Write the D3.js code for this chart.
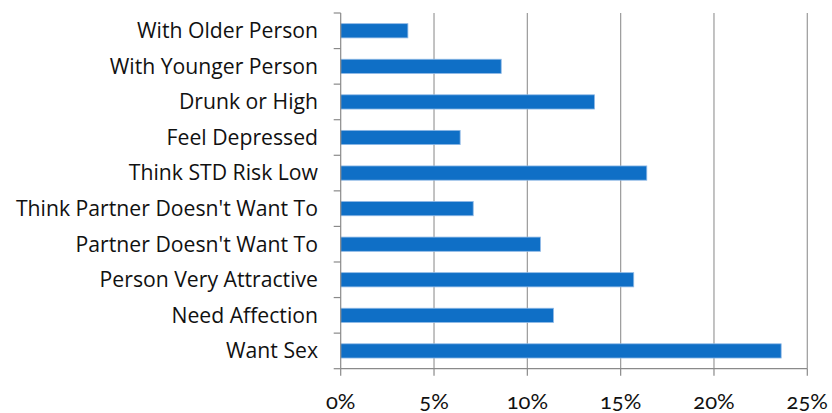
<!DOCTYPE html>
<html>
<head>
<meta charset="utf-8">
<script src="https://cdn.jsdelivr.net/npm/d3@7/dist/d3.min.js"></script>
<style>
  html, body { margin: 0; padding: 0; background: #fff; }
  svg { display: block; }
  .lbl { font-family: "Open Sans", Lato, sans-serif; fill: #111; }
  .num { font-family: Lato, "Open Sans", sans-serif; font-variant-numeric: oldstyle-nums; font-feature-settings: "onum" 1; }
</style>
</head>
<body>
<svg id="chart" width="832" height="413"></svg>
<script>
// Reasons given, top to bottom
const categories = [
  "With Older Person",
  "With Younger Person",
  "Drunk or High",
  "Feel Depressed",
  "Think STD Risk Low",
  "Think Partner Doesn't Want To",
  "Partner Doesn't Want To",
  "Person Very Attractive",
  "Need Affection",
  "Want Sex"
];
// Share of respondents (%)
const values = [3.6, 8.6, 13.6, 6.4, 16.4, 7.1, 10.7, 15.7, 11.4, 23.6];
const xTicks = [0, 5, 10, 15, 20, 25];

const svg = d3.select("#chart");
const plotLeft = 340.7, plotRight = 807.3, plotTop = 13, plotBottom = 368.7;

const x = d3.scaleLinear().domain([0, 25]).range([plotLeft, plotRight]);
const y = d3.scaleBand().domain(categories).range([plotTop, plotBottom]).paddingInner(0.6).paddingOuter(0.3);
const band = d3.scaleBand().domain(categories).range([plotTop, plotBottom]);

// vertical gridlines
svg.append("g").selectAll("line").data(xTicks.slice(1)).join("line")
  .attr("x1", d => x(d)).attr("x2", d => x(d))
  .attr("y1", plotTop).attr("y2", plotBottom)
  .attr("stroke", "#9a9a9a").attr("stroke-width", 1.2);

// bars
svg.append("g").selectAll("rect").data(values).join("rect")
  .attr("x", x(0))
  .attr("y", (d, i) => y(categories[i]))
  .attr("width", d => x(d) - x(0))
  .attr("height", y.bandwidth())
  .attr("fill", "#0F6FC6")
  .attr("stroke", "#8fb9e6").attr("stroke-width", 0.8);

// y axis line and ticks at category boundaries
const yAxis = svg.append("g").attr("stroke", "#8a8a8a").attr("stroke-width", 1.2);
yAxis.append("line").attr("x1", plotLeft).attr("x2", plotLeft).attr("y1", plotTop).attr("y2", plotBottom);
const bounds = categories.map(c => band(c)).concat([plotBottom]);
yAxis.selectAll("line.tk").data(bounds).join("line").attr("class", "tk")
  .attr("x1", plotLeft - 7).attr("x2", plotLeft).attr("y1", d => d).attr("y2", d => d);

// x axis line and ticks
const xAxis = svg.append("g").attr("stroke", "#8a8a8a").attr("stroke-width", 1.2);
xAxis.append("line").attr("x1", plotLeft).attr("x2", plotRight).attr("y1", plotBottom).attr("y2", plotBottom);
xAxis.selectAll("line.tk").data(xTicks).join("line").attr("class", "tk")
  .attr("x1", d => x(d)).attr("x2", d => x(d)).attr("y1", plotBottom).attr("y2", plotBottom + 7);

// category labels
svg.append("g").selectAll("text").data(categories).join("text")
  .attr("class", "lbl")
  .attr("x", 318)
  .attr("y", d => band(d) + band.bandwidth() / 2)
  .attr("dy", "0.35em")
  .attr("text-anchor", "end")
  .attr("font-size", 21.2)
  .text(d => d);

// percent labels
svg.append("g").selectAll("text").data(xTicks).join("text")
  .attr("class", "lbl num")
  .attr("x", d => x(d))
  .attr("y", 401)
  .attr("dy", "0.35em")
  .attr("text-anchor", "middle")
  .attr("font-size", 22)
  .text(d => d + "%");
</script>
</body>
</html>
